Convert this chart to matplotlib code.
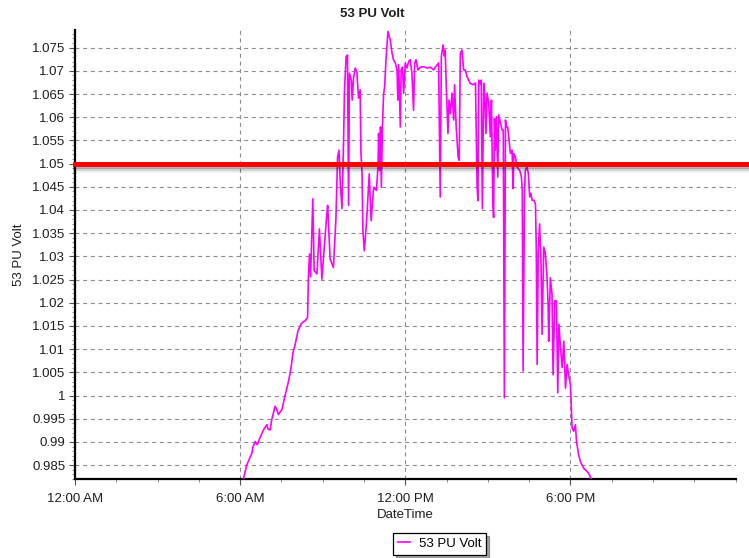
import matplotlib
matplotlib.use("Agg")
import matplotlib.pyplot as plt
import matplotlib.patheffects as pe
from matplotlib.ticker import MultipleLocator, FuncFormatter, FixedLocator


# ============================================================
# Data: bus 53 per-unit voltage over one day
# ============================================================

SERIES_NAME = "53 PU Volt"
LIMIT_PU = 1.05

# hour of day
hours = [
    6.10, 6.24, 6.43, 6.47, 6.55, 6.62, 6.73, 6.85, 6.97, 7.02,
    7.09, 7.15, 7.27, 7.33, 7.39, 7.52, 7.64, 7.76, 7.84, 7.92,
    8.00, 8.10, 8.21, 8.29, 8.36, 8.45, 8.48, 8.52, 8.56, 8.64,
    8.69, 8.79, 8.88, 8.97, 9.07, 9.15, 9.18, 9.27, 9.39, 9.48,
    9.54, 9.59, 9.64, 9.70, 9.76, 9.79, 9.85, 9.90, 9.94, 9.97,
    10.04, 10.07, 10.12, 10.18, 10.24, 10.30, 10.36, 10.39, 10.43, 10.46,
    10.51, 10.58, 10.63, 10.69, 10.76, 10.85, 10.95, 11.01, 11.03, 11.07,
    11.10, 11.13, 11.17, 11.21, 11.25, 11.30, 11.37, 11.45, 11.52, 11.57,
    11.64, 11.70, 11.73, 11.76, 11.82, 11.85, 11.90, 11.94, 12.00, 12.06,
    12.12, 12.18, 12.24, 12.30, 12.34, 12.39, 12.46, 12.55, 12.67, 12.79,
    12.91, 13.03, 13.09, 13.21, 13.27, 13.31, 13.37, 13.42, 13.45, 13.49,
    13.55, 13.59, 13.64, 13.70, 13.76, 13.79, 13.85, 13.92, 13.96, 14.00,
    14.06, 14.12, 14.18, 14.24, 14.36, 14.48, 14.55, 14.61, 14.64, 14.67,
    14.73, 14.76, 14.80, 14.85, 14.89, 14.93, 14.97, 15.03, 15.09, 15.13,
    15.18, 15.21, 15.24, 15.27, 15.31, 15.36, 15.39, 15.45, 15.52, 15.56,
    15.60, 15.64, 15.67, 15.72, 15.77, 15.82, 15.88, 15.92, 15.94, 16.00,
    16.06, 16.16, 16.22, 16.25, 16.28, 16.33, 16.36, 16.42, 16.47, 16.52,
    16.56, 16.61, 16.67, 16.73, 16.76, 16.79, 16.83, 16.88, 16.93, 16.97,
    17.03, 17.09, 17.15, 17.19, 17.21, 17.27, 17.33, 17.37, 17.43, 17.49,
    17.54, 17.58, 17.64, 17.70, 17.76, 17.82, 17.88, 17.94, 18.00, 18.06,
    18.12, 18.18, 18.22, 18.30, 18.36, 18.48, 18.61, 18.69, 18.79,
]

# per-unit voltage
volts = [
    0.9815, 0.9850, 0.9876, 0.9890, 0.9901, 0.9894, 0.9910, 0.9926, 0.9937, 0.9927,
    0.9926, 0.9948, 0.9977, 0.9970, 0.9959, 0.9970, 1.0002, 1.0031, 1.0056, 1.0092,
    1.0110, 1.0139, 1.0154, 1.0159, 1.0161, 1.0168, 1.0254, 1.0305, 1.0256, 1.0424,
    1.0269, 1.0262, 1.0359, 1.0251, 1.0330, 1.0392, 1.0410, 1.0294, 1.0276, 1.0381,
    1.0514, 1.0529, 1.0457, 1.0403, 1.0554, 1.0655, 1.0731, 1.0734, 1.0410, 1.0695,
    1.0680, 1.0637, 1.0684, 1.0706, 1.0698, 1.0641, 1.0659, 1.0522, 1.0478, 1.0356,
    1.0312, 1.0363, 1.0413, 1.0478, 1.0377, 1.0449, 1.0442, 1.0493, 1.0565, 1.0485,
    1.0579, 1.0449, 1.0579, 1.0648, 1.0666, 1.0724, 1.0785, 1.0767, 1.0738, 1.0724,
    1.0717, 1.0702, 1.0637, 1.0713, 1.0579, 1.0702, 1.0708, 1.0652, 1.0717, 1.0706,
    1.0720, 1.0724, 1.0695, 1.0615, 1.0717, 1.0724, 1.0702, 1.0708, 1.0709, 1.0706,
    1.0708, 1.0702, 1.0708, 1.0717, 1.0428, 1.0731, 1.0756, 1.0732, 1.0745, 1.0666,
    1.0565, 1.0637, 1.0608, 1.0652, 1.0594, 1.0670, 1.0579, 1.0514, 1.0507, 1.0738,
    1.0745, 1.0702, 1.0702, 1.0688, 1.0673, 1.0670, 1.0674, 1.0449, 1.0420, 1.0680,
    1.0672, 1.0680, 1.0403, 1.0673, 1.0646, 1.0565, 1.0652, 1.0631, 1.0558, 1.0637,
    1.0413, 1.0384, 1.0597, 1.0529, 1.0601, 1.0471, 1.0605, 1.0590, 1.0572, 1.0572,
    0.9995, 1.0594, 1.0579, 1.0579, 1.0550, 1.0522, 1.0529, 1.0446, 1.0522, 1.0514,
    1.0493, 1.0485, 1.0471, 1.0442, 1.0053, 1.0435, 1.0485, 1.0493, 1.0479, 1.0428,
    1.0436, 1.0421, 1.0421, 1.0413, 1.0312, 1.0067, 1.0306, 1.0370, 1.0291, 1.0132,
    1.0320, 1.0306, 1.0254, 1.0191, 1.0117, 1.0254, 1.0219, 1.0045, 1.0204, 1.0204,
    1.0006, 1.0154, 1.0103, 1.0060, 1.0117, 1.0016, 1.0067, 1.0042, 1.0024, 0.9930,
    0.9923, 0.9937, 0.9901, 0.9872, 0.9858, 0.9843, 0.9836, 0.9829, 0.9814,
]

tick_hours = [0, 6, 12, 18]
tick_labels = ["12:00 AM", "6:00 AM", "12:00 PM", "6:00 PM"]

TEXT_COLOR = "#1e1e1e"
GRID_COLOR = "#8c8c8c"


def main() -> None:
    plt.rcParams["font.family"] = ["Liberation Sans", "DejaVu Sans"]
    plt.rcParams["font.size"] = 9.5

    fig = plt.figure(figsize=(7.49, 5.58), dpi=100)
    ax = fig.add_axes([0.1001, 0.1416, 0.8820, 0.8046])

    ax.plot(
        hours,
        volts,
        color="#ff00ff",
        linewidth=1.2,
        label=SERIES_NAME,
        zorder=3,
    )

    # voltage limit with a soft drop shadow underneath
    ax.axhline(
        LIMIT_PU,
        xmin=0.0,
        xmax=1.022,
        color="#ff0000",
        linewidth=3.6,
        clip_on=False,
        zorder=4,
        path_effects=[
            pe.SimpleLineShadow(offset=(0, -4.5), shadow_color="k", alpha=0.06),
            pe.SimpleLineShadow(offset=(0, -3.0), shadow_color="k", alpha=0.12),
            pe.SimpleLineShadow(offset=(0, -1.5), shadow_color="k", alpha=0.2),
            pe.Normal(),
        ],
    )

    ax.set_xlim(0, 24)
    ax.set_ylim(0.982, 1.0788)

    ax.xaxis.set_major_locator(FixedLocator(tick_hours))
    ax.set_xticklabels(tick_labels)
    ax.xaxis.set_minor_locator(MultipleLocator(1.5))

    ax.yaxis.set_major_locator(MultipleLocator(0.005))
    ax.yaxis.set_minor_locator(MultipleLocator(0.001))
    ax.yaxis.set_major_formatter(FuncFormatter(lambda v, _: f"{round(v, 4):g}"))

    ax.tick_params(axis="both", which="major", direction="out", length=4,
                   width=0.8, color="#555555", labelcolor=TEXT_COLOR)
    ax.tick_params(axis="both", which="minor", direction="out", length=2.5,
                   width=0.6, color="#777777")
    ax.tick_params(axis="x", which="major", pad=6)
    ax.tick_params(axis="y", which="major", pad=3)

    ax.grid(True, which="major", color=GRID_COLOR, linewidth=0.8,
            linestyle=(0, (3.6, 3.3)), zorder=1)

    for side in ("top", "right"):
        ax.spines[side].set_visible(False)
    for side in ("left", "bottom"):
        ax.spines[side].set_linewidth(1.6)
        ax.spines[side].set_color("black")

    ax.set_xlabel("DateTime", color=TEXT_COLOR, labelpad=3)
    ax.set_ylabel(SERIES_NAME, color=TEXT_COLOR, labelpad=5)

    fig.text(0.497, 0.975, SERIES_NAME, ha="center", va="center",
             fontweight="bold", color=TEXT_COLOR)

    fig.legend(
        loc="center",
        bbox_to_anchor=(0.5868, 0.0251),
        frameon=True,
        fancybox=False,
        shadow=True,
        edgecolor="black",
        framealpha=1.0,
        handlelength=0.9,
        handletextpad=0.7,
        borderpad=0.35,
        fontsize=9.5,
    ).get_frame().set_linewidth(0.9)

    fig.savefig("out.png", dpi=100)
    plt.close(fig)


if __name__ == "__main__":
    main()
